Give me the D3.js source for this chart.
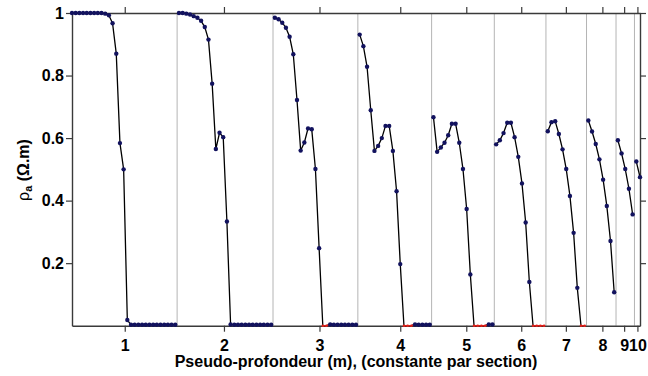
<!DOCTYPE html>
<html><head><meta charset="utf-8">
<script src="https://cdn.jsdelivr.net/npm/d3@7"></script>
<style>body{margin:0;background:#fff}</style>
</head><body>
<svg id="chart" width="648" height="376"></svg>
<script>
// ---- data ----
const sectionLabels = ["1","2","3","4","5","6","7","8","9","10"];
const sectionTickPositions = [15.3, 42.2, 68.1, 90.0, 107.9, 122.8, 134.9, 144.8, 150.7, 154.3];
const yTickValues = [0.2, 0.4, 0.6, 0.8, 1];
const yTickLabels = ["0.2", "0.4", "0.6", "0.8", "1"];

const rhoSection1 = [1,1,1,1,1,1,1,1,1,0.998,0.993,0.967,0.87,0.584,0.50,0.018,
  0.003,0.003,0.003,0.003,0.003,0.003,0.003,0.003,0.003,0.003,0.003,0.003,0.003];
const rhoSection2 = [1,1,0.998,0.995,0.99,0.985,0.975,0.955,0.915,0.774,0.565,0.617,0.603,0.333,0.004,
  0.003,0.003,0.003,0.003,0.003,0.003,0.003,0.003,0.003,0.003,0.003];
const rhoSection3 = [0.985,0.98,0.969,0.953,0.924,0.868,0.722,0.56,0.586,0.631,0.628,0.501,0.248,0,0,0.004,
  0.003,0.003,0.003,0.003,0.003,0.003,0.003];
const rhoSection4 = [0.931,0.894,0.828,0.689,0.559,0.575,0.6,0.639,0.639,0.559,0.43,0.197,0,0,0,0.004,
  0.003,0.003,0.003,0.003];
const rhoSection5 = [0.667,0.556,0.57,0.585,0.609,0.646,0.646,0.585,0.501,0.373,0.164,0,0,0,0,0.004,0.004];
const rhoSection6 = [0.58,0.593,0.616,0.649,0.649,0.603,0.54,0.455,0.33,0.14,0,0,0,0];
const rhoSection7 = [0.622,0.651,0.654,0.613,0.564,0.501,0.415,0.297,0.121,0,0];
const rhoSection8 = [0.656,0.621,0.581,0.532,0.467,0.383,0.271,0.107];
const rhoSection9 = [0.593,0.551,0.501,0.438,0.356];
const rhoSection10 = [0.525,0.475];
const sections = [rhoSection1,rhoSection2,rhoSection3,rhoSection4,rhoSection5,
                  rhoSection6,rhoSection7,rhoSection8,rhoSection9,rhoSection10];

// ---- build indexed points ----
let idx = 1;
const sectionPoints = sections.map(arr => arr.map(v => ({i: idx++, v})));
const nTotal = idx - 1;
const boundaries = [];
let cum = 0;
sections.forEach((arr, k) => { cum += arr.length; if (k < sections.length - 1) boundaries.push(cum + 0.5); });

// ---- layout ----
const L = 72, R = 640, T = 13, B = 325.7;
const svg = d3.select("#chart");
const x = d3.scaleLinear().domain([1, nTotal]).range([L, R]);
const y = d3.scaleLinear().domain([0, 1]).range([B, T]);
const font = "'Liberation Sans', Arial, Helvetica, sans-serif";
const axisColor = "#3a3a3a";

// section separators
svg.append("g").selectAll("line").data(boundaries).join("line")
  .attr("x1", d => x(d)).attr("x2", d => x(d))
  .attr("y1", T).attr("y2", B)
  .attr("stroke", "#b4b4b4").attr("stroke-width", 1);

function styleAxis(g) {
  g.selectAll(".domain").attr("stroke", axisColor).attr("stroke-width", 1.4);
  g.selectAll(".tick line").attr("stroke", axisColor).attr("stroke-width", 1.2);
  g.selectAll("text").attr("font-family", font).attr("font-size", 16)
    .attr("font-weight", "bold").attr("fill", "#000");
}

// bottom axis
svg.append("g").attr("transform", `translate(0,${B})`)
  .call(d3.axisBottom(x).tickValues(sectionTickPositions)
        .tickFormat((d, i) => sectionLabels[i]).tickSize(6).tickSizeOuter(0).tickPadding(8))
  .call(styleAxis);
// top axis
svg.append("g").attr("transform", `translate(0,${T})`)
  .call(d3.axisTop(x).tickValues(sectionTickPositions).tickFormat("").tickSize(6).tickSizeOuter(0))
  .call(styleAxis);
// left axis
svg.append("g").attr("transform", `translate(${L},0)`)
  .call(d3.axisLeft(y).tickValues(yTickValues)
        .tickFormat((d, i) => yTickLabels[i]).tickSize(6).tickSizeOuter(0).tickPadding(2))
  .call(styleAxis);
// right axis
svg.append("g").attr("transform", `translate(${R},0)`)
  .call(d3.axisRight(y).tickValues(yTickValues).tickFormat("").tickSize(6).tickSizeOuter(0))
  .call(styleAxis);

// data lines
const line = d3.line().x(d => x(d.i)).y(d => y(d.v));
svg.append("g").selectAll("path").data(sectionPoints).join("path")
  .attr("d", line).attr("fill", "none").attr("stroke", "#000").attr("stroke-width", 1.3);

// red overlay for null readings
const redSegs = [];
sectionPoints.forEach(pts => pts.forEach((p, k) => {
  if (p.v === 0 && k < pts.length - 1) redSegs.push([p, pts[k + 1]]);
}));
svg.append("g").selectAll("path").data(redSegs).join("path")
  .attr("d", line).attr("fill", "none").attr("stroke", "#e0201a").attr("stroke-width", 1.4);

// markers
const allPts = sectionPoints.flat();
svg.append("g").selectAll("circle").data(allPts.filter(p => p.v > 0)).join("circle")
  .attr("cx", d => x(d.i)).attr("cy", d => y(d.v)).attr("r", 2.2)
  .attr("fill", "#12125e");
svg.append("g").selectAll("circle").data(allPts.filter(p => p.v === 0)).join("circle")
  .attr("cx", d => x(d.i)).attr("cy", d => y(d.v)).attr("r", 1.3)
  .attr("fill", "#e0201a");

// axis titles
svg.append("text").attr("x", (L + R) / 2).attr("y", 367)
  .attr("text-anchor", "middle").attr("font-family", font).attr("font-size", 16)
  .attr("font-weight", "bold").text("Pseudo-profondeur (m), (constante par section)");

const yl = svg.append("text").attr("transform", "translate(29,170) rotate(-90)")
  .attr("text-anchor", "middle").attr("font-family", font).attr("font-size", 16)
  .attr("font-weight", "bold");
yl.append("tspan").attr("font-weight", "normal").text("ρ");
yl.append("tspan").attr("font-size", 11).attr("dy", 3).text("a");
yl.append("tspan").attr("dy", -3).text(" (Ω.m)");
</script>
</body></html>
